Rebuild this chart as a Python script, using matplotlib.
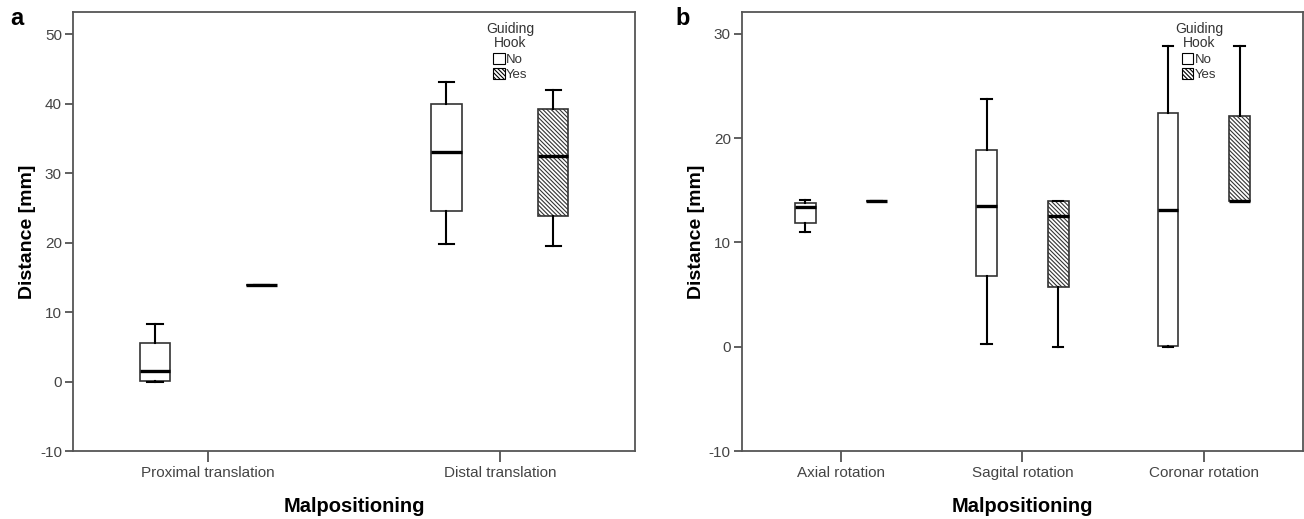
import matplotlib.pyplot as plt
from matplotlib.patches import Patch

plt.rcParams['hatch.linewidth'] = 0.8
plt.rcParams['axes.unicode_minus'] = False

# panel a: translation
cats_a = ["Proximal translation", "Distal translation"]
# order: whisker low, q1, median, q3, whisker high
no_a = [[0.0, 0.1, 1.5, 5.6, 8.3], [19.8, 24.6, 33.1, 39.9, 43.1]]
yes_a = [[13.9, 13.9, 13.9, 13.9, 13.9], [19.5, 23.8, 32.4, 39.3, 42.0]]

# panel b: rotation
cats_b = ["Axial rotation", "Sagital rotation", "Coronar rotation"]
no_b = [[11.0, 11.9, 13.4, 13.8, 14.1], [0.3, 6.8, 13.5, 18.9, 23.8], [0.0, 0.05, 13.1, 22.4, 28.8]]
yes_b = [[14.0, 14.0, 14.0, 14.0, 14.0], [0.0, 5.7, 12.5, 14.0, 14.0], [14.0, 14.0, 14.0, 22.1, 28.8]]

tick_font = ['Liberation Sans Narrow', 'Liberation Sans', 'DejaVu Sans']
label_font = ['Liberation Sans', 'DejaVu Sans']
HATCH = '\\\\\\\\\\\\\\\\'


def stats(vals):
    lo, q1, med, q3, hi = vals
    return dict(whislo=lo, q1=q1, med=med, q3=q3, whishi=hi, fliers=[])


def draw(ax, cats, no, yes, off, width, margin, ylim, yticks, leg_x):
    n = len(cats)
    for data, sign, hatch in [(no, -1, None), (yes, 1, HATCH)]:
        pos = [i + sign * off for i in range(n)]
        res = ax.bxp([stats(v) for v in data], positions=pos, widths=width,
                     patch_artist=True, showfliers=False,
                     medianprops=dict(color='black', linewidth=2.4),
                     whiskerprops=dict(color='black', linewidth=1.5),
                     capprops=dict(color='black', linewidth=1.5),
                     boxprops=dict(edgecolor='#333333', linewidth=1.2))
        for b in res['boxes']:
            b.set_facecolor('white')
            if hatch:
                b.set_hatch(hatch)
    ax.set_xlim(-margin, n - 1 + margin)
    ax.set_ylim(*ylim)
    ax.set_yticks(yticks)
    ax.set_xticks(range(n))
    ax.set_xticklabels(cats)
    for lab in ax.get_xticklabels() + ax.get_yticklabels():
        lab.set_family(tick_font)
        lab.set_fontsize(11)
        lab.set_color('#444444')
    ax.tick_params(axis='x', length=8, width=1.2, color='#444444', pad=3)
    ax.tick_params(axis='y', length=6, width=1.2, color='#444444', pad=2)
    for s in ax.spines.values():
        s.set_color('#555555')
        s.set_linewidth(1.3)
    ax.set_ylabel("Distance [mm]", family=label_font, fontsize=14,
                  fontweight='bold', labelpad=3)
    ax.set_xlabel("Malpositioning", family=tick_font, fontsize=14.5,
                  fontweight='bold', labelpad=12)
    handles = [Patch(facecolor='white', edgecolor='black', linewidth=0.8, label='No'),
               Patch(facecolor='white', edgecolor='black', linewidth=0.8,
                     hatch=HATCH, label='Yes')]
    leg = ax.legend(handles=handles, title="Guiding\nHook", frameon=False,
                    loc='upper center', bbox_to_anchor=(leg_x, 1.0),
                    handlelength=0.9, handleheight=0.9, handletextpad=0.1,
                    labelspacing=0.2, borderaxespad=0.4,
                    prop=dict(family=label_font, size=9.5),
                    title_fontproperties=dict(family=label_font, size=10))
    leg.get_title().set_multialignment('center')
    leg.get_title().set_color('#333333')
    leg.get_title().set_linespacing(0.95)
    for t in leg.get_texts():
        t.set_color('#333333')


fig = plt.figure(figsize=(13.04, 5.19), dpi=100)
ax_a = fig.add_axes([0.056, 0.131, 0.431, 0.846])
ax_b = fig.add_axes([0.569, 0.131, 0.430, 0.846])

draw(ax_a, cats_a, no_a, yes_a, 0.183, 0.104, 0.464, (-10, 53.2), range(-10, 51, 10), 0.778)
draw(ax_b, cats_b, no_b, yes_b, 0.197, 0.115, 0.545, (-10, 32.1), range(-10, 31, 10), 0.815)

fig.text(0.008, 0.965, "a", fontsize=17, fontweight='bold', family=label_font, va='center')
fig.text(0.518, 0.965, "b", fontsize=17, fontweight='bold', family=label_font, va='center')

fig.savefig("out.png", dpi=100)
